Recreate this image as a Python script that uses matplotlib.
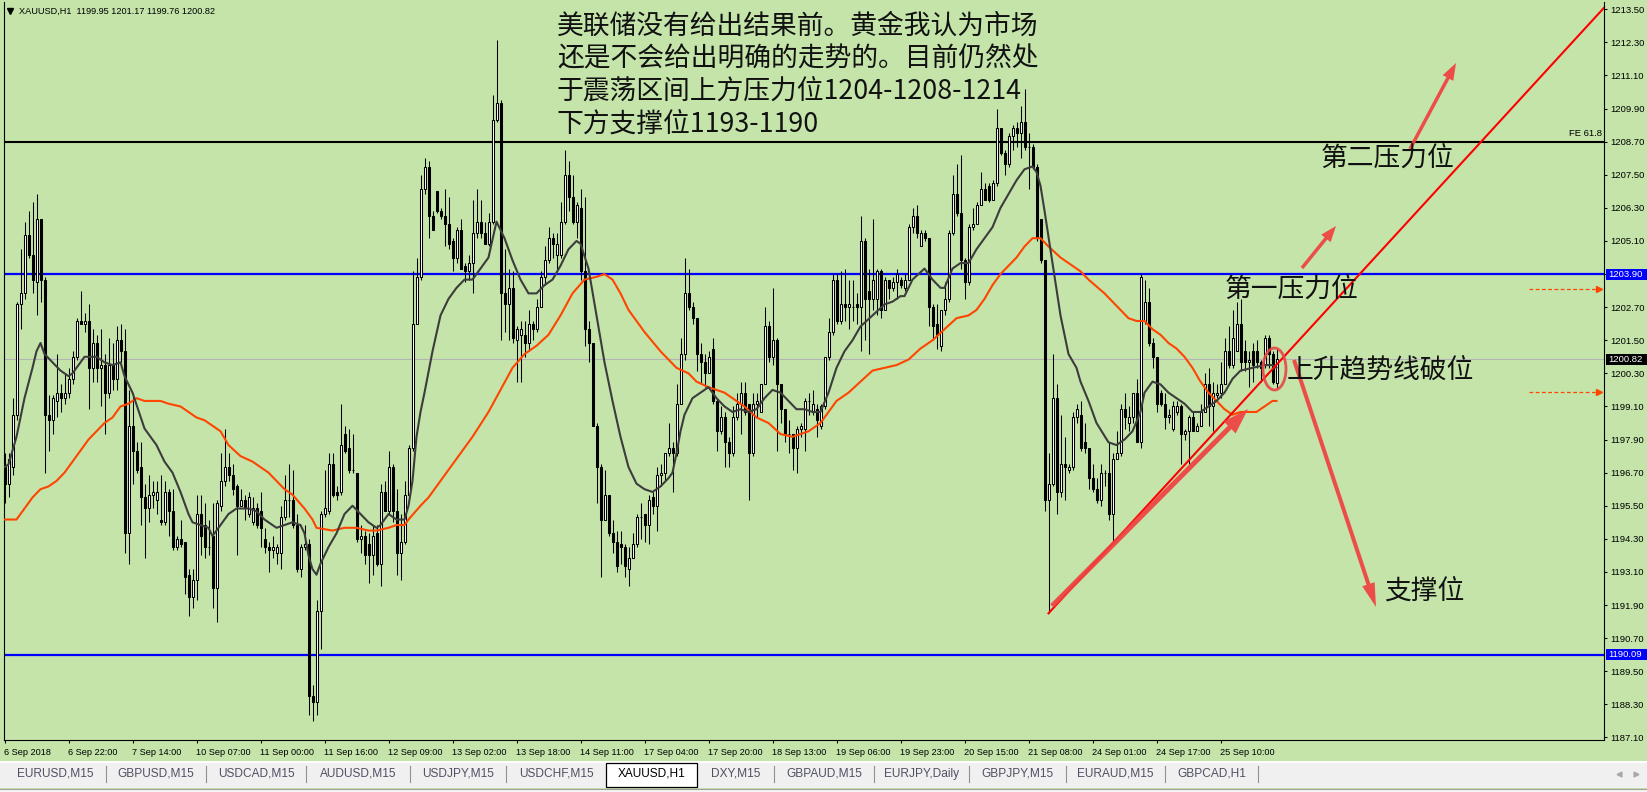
import matplotlib
matplotlib.use('Agg')
import matplotlib.pyplot as plt
from matplotlib.patches import Rectangle, Ellipse, FancyArrow
from matplotlib.transforms import blended_transform_factory
import numpy as np

W, H, DPI = 1647, 792, 100
BG = '#C4E4AA'
plt.rcParams['font.family'] = ['Liberation Sans', 'DejaVu Sans']
CJK = ['Noto Sans CJK SC', 'DejaVu Sans']

# ---------------- data (XAUUSD H1) ----------------
opens = [
1196.9,1196.3,1196.9,1198.8,1202.8,1203.2,1205.3,1204.6,1203.6,1205.9,
1203.7,1198.8,1198.6,1199.3,1199.6,1199.4,1199.6,1200.1,1200.9,1202.2,
1202.1,1202.2,1200.5,1201.4,1200.5,1200.6,1199.6,1200.6,1200.1,1201.5,
1201.1,1194.5,1198.4,1197.5,1196.9,1195.8,1195.4,1195.9,1195.7,1195.0,
1194.9,1196.0,1195.3,1194.0,1194.3,1194.2,1193.0,1192.2,1192.8,1195.2,
1194.8,1194.0,1194.4,1192.5,1195.5,1196.4,1196.9,1196.6,1196.2,1195.5,
1195.7,1195.2,1194.9,1195.4,1195.3,1194.3,1194.0,1193.9,1193.8,1193.8,
1195.1,1195.7,1195.7,1194.8,1193.2,1194.0,1194.1,1188.6,1188.4,1191.7,
1195.2,1195.3,1197.0,1196.0,1196.0,1198.1,1197.6,1196.8,1196.7,1194.3,
1194.4,1194.1,1193.7,1194.5,1193.4,1196.0,1195.3,1196.9,1195.3,1193.8,
1194.2,1195.9,1197.6,1202.1,1203.8,1207.0,1207.8,1206.0,1206.9,1206.2,
1206.0,1205.7,1205.1,1204.5,1205.5,1204.2,1204.0,1204.3,1205.4,1205.8,
1205.4,1205.0,1205.8,1209.5,1210.1,1203.2,1202.8,1203.4,1201.5,1201.7,
1201.7,1201.4,1202.1,1201.9,1202.7,1203.8,1204.4,1205.2,1204.6,1204.6,
1205.8,1207.5,1206.7,1205.8,1206.3,1204.0,1201.9,1201.4,1198.4,1196.9,
1195.0,1195.9,1194.5,1194.2,1194.1,1194.0,1193.2,1193.6,1194.1,1195.1,
1195.2,1194.8,1195.8,1195.5,1196.6,1196.7,1197.4,1197.6,1197.4,1199.2,
1201.0,1203.2,1202.7,1202.3,1201.0,1200.7,1200.3,1201.2,1199.3,1198.2,
1198.7,1197.8,1197.4,1198.7,1199.2,1199.6,1199.2,1197.4,1199.2,1198.9,
1199.9,1202.0,1200.9,1201.5,1199.9,1199.0,1198.1,1198.1,1197.6,1198.3,
1198.3,1199.3,1198.9,1199.0,1198.4,1199.1,1200.9,1201.8,1203.7,1202.2,
1202.8,1202.7,1202.7,1202.8,1202.7,1205.1,1203.3,1203.0,1203.0,1204.0,
1202.6,1203.7,1203.4,1203.6,1203.7,1203.4,1203.7,1205.6,1206.0,1204.9,
1205.4,1205.2,1202.7,1202.1,1201.3,1202.6,1203.0,1205.4,1206.8,1206.1,
1204.4,1203.6,1205.6,1205.7,1206.4,1207.0,1207.1,1206.6,1207.2,1209.2,
1208.3,1207.9,1208.9,1209.2,1209.0,1209.4,1208.5,1208.5,1207.8,1205.9,
1204.4,1195.7,1196.3,1199.4,1196.0,1197.0,1196.8,1196.9,1198.7,1198.8,
1197.8,1197.6,1196.5,1196.1,1195.7,1196.7,1196.7,1195.2,1197.2,1197.4,
1199.0,1198.5,1198.7,1199.6,1197.8,1202.2,1202.9,1201.4,1200.9,1199.6,
1199.2,1198.7,1198.3,1198.9,1199.1,1198.1,1198.2,1198.7,1198.2,1198.4,
1198.9,1199.9,1199.1,1199.5,1199.6,1199.9,1201.1,1200.6,1201.1,1202.1,
1201.1,1200.7,1201.1,1201.1,1200.7,1200.6,1201.6,1201.0,1199.95]

highs = [
1197.4,1197.4,1199.4,1202.9,1204.8,1205.8,1206.2,1206.5,1206.8,1205.9,
1203.8,1199.5,1199.5,1201.0,1199.9,1200.3,1200.5,1201.1,1202.3,1203.3,
1202.5,1202.8,1201.9,1201.7,1201.9,1201.0,1201.6,1201.4,1202.0,1202.1,
1201.9,1199.7,1199.6,1197.8,1197.8,1196.3,1196.6,1196.4,1196.4,1196.6,
1196.4,1196.1,1196.1,1194.4,1195.0,1194.2,1193.2,1193.2,1195.9,1195.9,
1195.6,1195.0,1195.6,1195.7,1197.4,1198.3,1197.4,1197.0,1196.3,1196.1,
1195.9,1196.0,1195.8,1195.6,1196.0,1194.7,1194.2,1194.4,1194.1,1195.5,
1196.6,1197.0,1196.8,1195.2,1194.1,1194.8,1194.3,1189.0,1192.1,1195.3,
1196.8,1197.4,1197.4,1196.2,1199.2,1198.4,1198.3,1198.1,1196.7,1194.8,
1194.6,1194.5,1194.8,1194.8,1196.3,1196.4,1197.5,1197.0,1196.1,1195.2,
1196.4,1197.7,1204.0,1204.5,1207.5,1208.1,1208.0,1206.2,1206.9,1206.3,
1207.0,1206.7,1205.2,1205.6,1205.9,1204.3,1204.6,1206.6,1207.0,1206.6,
1205.8,1206.1,1210.4,1212.4,1210.2,1204.8,1204.1,1204.0,1202.0,1202.2,
1202.2,1202.6,1202.2,1203.0,1204.0,1204.9,1205.6,1205.4,1205.4,1206.5,
1208.4,1208.0,1207.5,1206.5,1207.0,1206.7,1202.2,1201.4,1198.5,1197.0,
1196.8,1195.9,1195.0,1194.6,1194.6,1194.1,1194.0,1194.5,1195.2,1195.6,
1195.2,1195.9,1196.0,1196.9,1197.0,1197.4,1198.5,1197.8,1199.9,1201.6,
1204.5,1204.1,1202.9,1202.3,1201.4,1201.0,1201.1,1201.6,1199.4,1199.1,
1198.9,1198.0,1199.1,1199.6,1200.0,1200.0,1199.2,1199.6,1199.6,1199.9,
1202.7,1202.2,1203.4,1201.6,1199.9,1199.0,1198.6,1198.1,1198.4,1198.5,
1199.4,1199.6,1199.7,1199.2,1199.2,1200.9,1202.3,1203.9,1203.9,1204.0,
1204.1,1203.7,1203.7,1203.2,1206.0,1205.2,1204.1,1205.9,1204.1,1204.1,
1203.8,1203.7,1203.8,1204.1,1203.8,1203.9,1205.7,1206.3,1206.4,1205.5,
1205.5,1205.2,1202.8,1202.8,1202.6,1203.6,1205.5,1207.5,1207.9,1208.2,
1204.5,1205.7,1206.3,1206.5,1207.6,1207.2,1207.2,1207.3,1209.9,1209.2,
1208.4,1209.0,1209.3,1209.4,1210.0,1210.6,1209.0,1208.6,1207.9,1205.9,
1204.4,1197.4,1201.0,1199.9,1198.8,1198.0,1197.0,1198.9,1199.2,1199.3,
1198.5,1197.6,1197.0,1196.5,1197.0,1196.8,1197.8,1197.4,1198.2,1199.2,
1199.6,1199.1,1199.6,1200.1,1203.9,1203.7,1203.4,1201.6,1200.9,1199.7,
1199.6,1199.0,1199.3,1199.3,1199.2,1198.3,1198.8,1198.9,1198.5,1199.2,
1200.3,1200.5,1200.0,1199.9,1200.7,1201.6,1202.0,1202.6,1202.9,1203.0,
1201.5,1201.1,1201.4,1201.5,1200.8,1201.7,1201.7,1201.1,1201.17]

lows = [
1195.6,1195.8,1196.6,1198.6,1201.9,1203.0,1204.5,1203.2,1202.4,1202.9,
1196.7,1197.5,1198.1,1198.7,1198.9,1199.2,1199.4,1199.9,1200.8,1202.1,
1201.8,1199.0,1200.0,1200.0,1199.1,1198.1,1199.4,1199.7,1199.7,1200.7,
1193.8,1193.4,1196.3,1196.7,1194.8,1193.6,1194.9,1195.4,1195.2,1194.8,
1194.8,1194.4,1193.9,1193.9,1194.0,1192.3,1191.5,1191.8,1192.1,1193.7,
1193.6,1193.7,1191.8,1191.3,1195.3,1196.2,1196.4,1195.9,1193.7,1195.5,
1195.0,1195.1,1194.8,1194.7,1194.0,1193.8,1193.1,1193.6,1193.4,1193.2,
1195.0,1195.1,1194.7,1193.1,1192.9,1193.9,1187.9,1187.7,1187.9,1190.3,
1195.1,1195.2,1195.8,1195.7,1195.9,1197.4,1196.7,1196.7,1194.2,1193.8,
1193.4,1192.7,1193.0,1193.3,1192.6,1195.3,1195.2,1194.9,1193.0,1192.8,
1194.1,1195.9,1197.5,1202.1,1203.7,1206.8,1205.2,1205.5,1206.1,1205.9,
1204.9,1204.8,1204.0,1204.3,1204.1,1203.6,1203.7,1203.2,1205.2,1205.2,
1205.0,1204.9,1205.7,1209.4,1201.5,1201.8,1201.5,1201.4,1200.0,1200.0,
1200.9,1201.1,1201.5,1201.8,1202.7,1203.5,1204.3,1204.5,1204.1,1204.5,
1205.7,1206.2,1205.7,1205.2,1203.7,1201.3,1200.7,1198.4,1195.6,1192.9,
1195.0,1194.4,1193.8,1193.1,1193.4,1192.9,1192.6,1193.6,1194.0,1194.3,
1194.2,1194.1,1195.2,1194.6,1196.2,1196.4,1197.3,1196.0,1197.3,1199.2,
1200.8,1202.6,1202.1,1200.4,1199.9,1199.8,1200.3,1199.2,1197.5,1198.1,
1196.9,1196.9,1197.3,1198.6,1198.1,1198.8,1195.7,1197.3,1198.7,1198.9,
1199.9,1200.7,1200.6,1197.5,1198.5,1197.8,1197.4,1196.8,1196.7,1198.0,
1197.5,1198.8,1198.8,1198.0,1198.3,1199.0,1200.8,1201.7,1202.1,1202.1,
1202.2,1201.9,1202.2,1202.1,1201.1,1201.5,1201.0,1202.6,1202.4,1202.3,
1202.6,1203.0,1203.3,1203.0,1203.4,1203.3,1203.7,1205.4,1205.2,1204.9,
1205.1,1202.0,1201.5,1201.2,1201.1,1202.4,1202.9,1205.3,1206.0,1204.1,
1203.0,1203.5,1205.5,1205.7,1206.4,1206.6,1206.5,1206.6,1207.1,1208.2,
1207.5,1207.8,1208.4,1208.5,1208.1,1208.4,1207.0,1207.7,1205.1,1204.3,
1195.3,1191.6,1196.2,1195.2,1195.8,1195.7,1196.7,1196.8,1198.5,1197.5,
1197.4,1196.1,1196.0,1195.6,1195.5,1196.2,1195.0,1194.2,1197.2,1197.3,
1198.3,1198.2,1198.5,1197.8,1197.6,1202.1,1201.3,1200.5,1198.9,1199.1,
1198.3,1198.5,1198.2,1198.8,1197.0,1197.9,1197.0,1198.2,1198.2,1198.4,
1198.9,1198.4,1198.2,1199.4,1199.4,1199.9,1200.5,1200.5,1201.1,1200.4,
1200.4,1199.8,1200.0,1200.5,1200.0,1200.5,1200.5,1199.9,1199.76]

closes = [
1196.3,1197.2,1198.8,1202.8,1203.2,1205.3,1204.6,1203.7,1205.9,1203.7,
1198.8,1198.6,1199.4,1199.6,1199.4,1199.6,1200.1,1200.9,1202.2,1202.1,
1202.2,1200.5,1201.4,1200.5,1200.6,1199.6,1200.6,1200.1,1201.5,1201.1,
1194.5,1198.4,1197.5,1196.8,1195.8,1195.4,1195.9,1196.0,1196.0,1194.9,
1196.0,1195.3,1194.0,1194.3,1194.1,1192.9,1192.2,1192.8,1195.2,1194.4,
1194.0,1194.0,1192.5,1195.6,1196.4,1196.9,1196.6,1196.1,1195.5,1195.7,
1195.4,1195.8,1195.4,1194.8,1194.7,1194.0,1193.9,1194.0,1194.0,1195.1,
1195.7,1195.7,1194.8,1193.2,1194.0,1194.1,1188.6,1188.4,1191.7,1195.2,
1195.4,1197.0,1195.9,1195.9,1197.7,1197.5,1196.8,1196.8,1194.3,1194.4,
1193.7,1193.7,1194.4,1193.4,1196.0,1195.3,1196.9,1195.3,1193.8,1194.2,
1195.9,1197.6,1202.1,1203.8,1207.0,1207.8,1206.0,1205.5,1206.2,1206.0,
1205.7,1205.0,1204.5,1205.5,1204.1,1204.0,1204.3,1205.4,1205.8,1205.4,
1205.0,1205.8,1209.5,1210.1,1203.2,1202.8,1203.4,1201.6,1201.9,1201.9,
1201.4,1202.1,1201.9,1202.7,1203.8,1204.4,1205.2,1205.0,1205.0,1205.8,
1207.5,1206.7,1205.8,1206.4,1204.0,1201.9,1201.4,1198.4,1196.9,1195.0,
1195.9,1194.5,1194.2,1193.3,1194.0,1193.3,1193.6,1194.1,1195.1,1195.1,
1194.8,1195.7,1195.5,1196.6,1196.7,1197.4,1197.6,1197.4,1199.2,1201.0,
1203.2,1202.7,1202.3,1201.0,1200.7,1200.3,1200.9,1199.3,1198.2,1198.7,
1197.8,1197.4,1198.7,1199.2,1199.6,1198.9,1197.4,1199.2,1199.3,1199.9,
1202.0,1200.9,1201.5,1199.9,1199.0,1198.1,1198.1,1197.6,1198.3,1198.4,
1199.3,1199.3,1199.2,1198.6,1199.1,1200.9,1201.8,1203.7,1202.2,1202.8,
1202.7,1202.8,1202.7,1202.7,1205.1,1203.0,1203.0,1203.7,1204.0,1202.6,
1203.7,1203.4,1203.6,1203.9,1203.5,1203.7,1205.6,1206.0,1205.4,1205.4,
1205.2,1202.7,1202.0,1201.7,1202.6,1203.0,1205.4,1206.8,1206.1,1204.4,
1203.6,1205.6,1205.7,1206.4,1207.0,1206.6,1206.6,1207.2,1209.2,1208.3,
1207.9,1208.9,1209.2,1209.0,1209.4,1208.5,1208.5,1207.8,1205.2,1204.4,
1195.7,1196.3,1199.4,1196.0,1197.0,1196.9,1196.9,1198.7,1199.0,1197.6,
1197.6,1196.5,1196.1,1195.7,1196.7,1196.7,1195.2,1197.2,1197.4,1199.0,
1198.7,1198.7,1199.6,1197.8,1203.8,1202.9,1201.4,1200.9,1199.2,1199.2,
1198.7,1198.8,1199.1,1199.1,1198.1,1198.2,1198.7,1198.2,1198.4,1198.9,
1199.9,1199.1,1199.6,1199.6,1199.9,1201.1,1200.6,1201.6,1202.1,1200.7,
1200.7,1200.8,1200.6,1200.7,1200.5,1201.6,1201.0,1200.0,1200.82]

# fast moving average (dark line): bar index -> value
ma_fast_bars = [0,1,3,5,7,8,9,10,12,14,16,17,19,20,23,25,27,29,30,32,35,38,40,42,44,46,47,49,51,52,
    54,56,58,61,63,65,68,70,72,74,75,76,77,78,79,81,83,85,87,89,91,93,94,96,98,100,101,102,103,104,
    105,107,109,111,113,115,117,119,121,123,125,127,129,131,133,135,137,139,141,143,144,146,148,150,152,154,156,158,160,
    162,164,166,167,168,169,170,172,174,176,178,180,182,184,186,188,190,192,194,196,198,200,202,204,206,208,210,212,214,
    217,220,222,224,225,227,230,232,234,235,237,239,241,243,245,247,249,251,253,255,257,258,259,260,262,264,266,268,269,
    271,273,276,278,280,282,284,285,287,289,291,293,295,297,299,301,303,305,307,309,312,315,317,318]
ma_fast_vals = [1196.9,1197.0,1198.0,1199.4,1200.5,1201.1,1201.4,1201.0,1200.7,1200.4,1200.2,1200.3,1200.7,1200.9,1200.9,
    1200.7,1200.6,1200.7,1200.2,1199.6,1198.3,1197.7,1197.1,1196.7,1196.0,1195.2,1194.9,1194.8,1194.7,1194.4,
    1194.8,1195.2,1195.4,1195.4,1195.3,1195.0,1194.7,1194.8,1194.9,1194.8,1194.5,1193.7,1193.2,1193.0,1193.4,1194.0,
    1194.5,1195.2,1195.5,1195.2,1194.9,1194.7,1194.8,1195.2,1195.0,1195.0,1195.5,1196.4,1198.0,1198.9,
    1199.6,1201.1,1202.4,1203.0,1203.4,1203.7,1203.7,1204.1,1204.5,1205.8,1205.2,1204.4,1203.7,1203.2,1203.2,1203.5,
    1203.7,1204.2,1204.8,1205.1,1205.0,1204.1,1202.4,1200.7,1199.3,1198.0,1196.9,1196.3,1196.1,
    1196.0,1196.2,1196.5,1196.7,1197.4,1198.2,1198.8,1199.4,1199.6,1199.8,1199.4,1199.1,1198.9,1199.0,1198.9,1199.0,
    1199.4,1199.7,1199.6,1199.3,1199.0,1199.0,1198.9,1198.9,1199.6,1200.5,1201.1,1201.5,1202.0,
    1202.4,1202.8,1202.9,1203.1,1203.1,1203.7,1204.1,1203.7,1203.4,1203.4,1204.1,1204.3,1204.3,1204.8,1205.2,1205.6,
    1206.3,1206.8,1207.3,1207.7,1207.8,1207.6,1207.1,1206.2,1204.3,1202.4,1201.0,1200.5,1200.0,
    1199.3,1198.5,1197.8,1197.7,1197.9,1198.2,1198.9,1199.6,1200.0,1199.9,1199.6,1199.4,1199.2,1198.9,1198.9,1199.1,
    1199.3,1199.6,1200.1,1200.4,1200.5,1200.6,1200.6,1200.5]

# slow moving average (orange line): bar index -> value
ma_slow_bars = [0,3,5,7,9,11,13,15,17,19,21,23,25,27,29,31,33,35,39,41,44,46,48,50,52,54,56,59,62,66,70,72,75,77,78,
    82,85,88,91,93,96,98,100,101,104,106,108,109,113,117,121,124,127,130,133,136,139,142,145,148,150,152,154,156,158,160,
    164,168,171,173,176,180,182,185,188,191,194,197,199,201,204,206,208,211,214,217,220,223,226,229,232,235,238,241,243,
    245,247,249,251,253,255,257,259,261,264,267,269,271,275,277,279,281,283,285,287,289,291,293,295,297,299,301,303,305,
    307,309,311,313,315,317,318]
ma_slow_vals = [1195.0,1195.0,1195.4,1195.8,1196.1,1196.2,1196.4,1196.7,1197.1,1197.5,1197.9,1198.2,1198.5,1198.7,1199.1,
    1199.2,1199.4,1199.3,1199.3,1199.2,1199.1,1198.9,1198.7,1198.6,1198.4,1198.2,1197.7,1197.3,1197.1,1196.7,1196.1,
    1195.9,1195.4,1195.0,1194.7,1194.6,1194.7,1194.7,1194.6,1194.6,1194.7,1194.8,1194.8,1195.0,1195.5,1195.8,1196.2,
    1196.4,1197.2,1198.0,1198.9,1199.7,1200.5,1201.0,1201.3,1201.7,1202.4,1203.2,1203.7,1203.8,1203.9,1203.7,1203.2,
    1202.6,1202.2,1201.8,1201.1,1200.5,1200.3,1200.0,1199.8,1199.6,1199.4,1199.1,1198.7,1198.5,1198.1,1198.0,1198.1,
    1198.2,1198.5,1198.9,1199.3,1199.6,1200.0,1200.4,1200.5,1200.6,1200.8,1201.2,1201.5,1201.9,1202.3,1202.4,1202.6,
    1203.0,1203.5,1203.9,1204.2,1204.5,1204.9,1205.2,1205.2,1204.9,1204.5,1204.2,1204.0,1203.7,1203.2,1202.9,1202.6,
    1202.3,1202.2,1202.2,1201.9,1201.7,1201.4,1201.2,1200.9,1200.5,1200.0,1199.6,1199.3,1199.0,1198.8,1198.9,1198.9,
    1198.9,1199.1,1199.3,1199.3]

level_fe618 = 1208.70
level_res = 1203.90
level_sup = 1190.09
last_price = 1200.82
dashed_levels = [1203.36, 1199.63]
trend_start = (261, 1191.6)
trend_slope = 0.1581  # price per bar

ytick_vals = [1213.50,1212.30,1211.10,1209.90,1208.70,1207.50,1206.30,1205.10,1203.90,1202.70,1201.50,1200.30,
              1199.10,1197.90,1196.70,1195.50,1194.30,1193.10,1191.90,1190.70,1189.50,1188.30,1187.10]
xtick_labels = ['6 Sep 2018','6 Sep 22:00','7 Sep 14:00','10 Sep 07:00','11 Sep 00:00','11 Sep 16:00',
                '12 Sep 09:00','13 Sep 02:00','13 Sep 18:00','14 Sep 11:00','17 Sep 04:00','17 Sep 20:00',
                '18 Sep 13:00','19 Sep 06:00','19 Sep 23:00','20 Sep 15:00','21 Sep 08:00','24 Sep 01:00',
                '24 Sep 17:00','25 Sep 10:00']
bars_per_label = 16
tabs = ['EURUSD,M15','GBPUSD,M15','USDCAD,M15','AUDUSD,M15','USDJPY,M15','USDCHF,M15','XAUUSD,H1',
        'DXY,M15','GBPAUD,M15','EURJPY,Daily','GBPJPY,M15','EURAUD,M15','GBPCAD,H1']
active_tab = 'XAUUSD,H1'

# ---------------- figure ----------------
fig = plt.figure(figsize=(W / DPI, H / DPI), dpi=DPI, facecolor=BG)
ax = fig.add_axes([4 / W, 52 / H, 1600 / W, 738 / H])
ax.set_facecolor(BG)
ax.set_xlim(-0.125, 399.875)
ax.set_ylim(1187.006, 1213.765)

o = np.array(opens); h = np.array(highs); l = np.array(lows); c = np.array(closes)
idx = np.arange(len(o))

# horizontal levels
ax.axhline(last_price, color='#B4B4B4', lw=0.8, zorder=1)
ax.axhline(level_fe618, color='black', lw=1.5, zorder=2)
ax.axhline(level_res, color='#0000FF', lw=1.6, zorder=2)
ax.axhline(level_sup, color='#0000FF', lw=1.6, zorder=2)

# candles
ax.vlines(idx, l, h, color='black', lw=0.75, zorder=3)
bull = c >= o
ax.bar(idx[bull], c[bull] - o[bull], bottom=o[bull], width=0.5, color='white',
       edgecolor='black', linewidth=0.75, zorder=4)
ax.bar(idx[~bull], o[~bull] - c[~bull], bottom=c[~bull], width=0.5, color='black',
       edgecolor='black', linewidth=0.75, zorder=4)

# moving averages
ax.plot(ma_slow_bars, ma_slow_vals, color='#FF4500', lw=1.5, zorder=5)
ax.plot(ma_fast_bars, ma_fast_vals, color='#3C3C3C', lw=1.5, zorder=5)

# trend line
x_end = 399.875
ax.plot([trend_start[0], x_end], [trend_start[1], trend_start[1] + trend_slope * (x_end - trend_start[0])],
        color='#FF0000', lw=1.5, zorder=6)

# dashed orange arrows at right
for lv in dashed_levels:
    ax.plot([381.0, 398.6], [lv, lv], color='#FF4500', lw=0.9, ls=(0, (3, 2)), zorder=5)
    ax.plot([398.6], [lv], marker='>', color='#FF4500', ms=4, zorder=5)

# axes styling
for s in ['top']:
    ax.spines[s].set_visible(False)
for s in ['left', 'right', 'bottom']:
    ax.spines[s].set_color('black')
    ax.spines[s].set_linewidth(0.8)
ax.yaxis.tick_right()
ax.set_yticks(ytick_vals)
ax.set_yticklabels([f'{v:.2f}' for v in ytick_vals], fontsize=6.8)
ax.tick_params(axis='y', direction='out', length=2.5, width=0.75, pad=2, colors='black')
xt = [i * bars_per_label for i in range(len(xtick_labels))]
ax.set_xticks(xt)
ax.set_xticklabels(xtick_labels, fontsize=6.6)
for t in ax.get_xticklabels():
    t.set_ha('left')
ax.tick_params(axis='x', direction='out', length=2.5, width=0.75, pad=3, colors='black')

# price tags on the right scale
trans = blended_transform_factory(ax.transAxes, ax.transData)
ppu = 738 / (1213.765 - 1187.006)
def price_tag(p, fc):
    ax.add_patch(Rectangle(((1606 - 4) / 1600, p - 5.5 / ppu), 41 / 1600, 11 / ppu, transform=trans,
                           fc=fc, ec='none', clip_on=False, zorder=7))
    ax.text((1608 - 4) / 1600, p, f'{p:.2f}', transform=trans, color='white', fontsize=6.8,
            va='center', ha='left', clip_on=False, zorder=8)
price_tag(level_res, '#0000FF')
price_tag(level_sup, '#0000FF')
price_tag(last_price, '#000000')

# ---------------- overlay in pixel coords ----------------
ov = fig.add_axes([0, 0, 1, 1], zorder=10)
ov.set_xlim(0, W); ov.set_ylim(H, 0); ov.axis('off'); ov.patch.set_alpha(0)

# header
ov.plot([10], [10.5], marker='v', color='black', ms=4)
ov.text(19, 11, 'XAUUSD,H1  1199.95 1201.17 1199.76 1200.82', fontsize=6.6, va='center', ha='left')
ov.text(1602, 133, 'FE 61.8', fontsize=6.8, va='center', ha='right')

# annotation texts
txt = dict(family=CJK, fontsize=19.3, color='#111111', va='center', ha='left')
ov.text(557, 26, '美联储没有给出结果前。黄金我认为市场', **txt)
ov.text(557, 59, '还是不会给出明确的走势的。目前仍然处', **txt)
ov.text(557, 91, '于震荡区间上方压力位1204-1208-1214', **txt)
ov.text(557, 124, '下方支撑位1193-1190', **txt)
ov.text(1321, 158, '第二压力位', **txt)
ov.text(1225, 289, '第一压力位', **txt)
ov.text(1287, 370, '上升趋势线破位', **txt)
ov.text(1384, 591, '支撑位', **txt)

# hand drawn arrows
ARC = '#F04040'
def arrow(x0, y0, x1, y1, w, hw, hl):
    ov.add_patch(FancyArrow(x0, y0, x1 - x0, y1 - y0, width=w, head_width=hw, head_length=hl,
                            length_includes_head=True, color=ARC, alpha=0.92, lw=0))
arrow(1052, 606, 1248, 409, 5, 17, 26)
arrow(1302, 268, 1336, 226, 3.5, 12, 16)
arrow(1410, 149, 1456, 63, 3.5, 12, 17)
arrow(1294, 360, 1376, 607, 4, 13, 24)
ov.add_patch(Ellipse((1274.5, 369), 23, 42, fill=False, ec='#E84545', lw=2.0, alpha=0.9))

# tab bar
ov.add_patch(Rectangle((0, 761), W, 2, fc='white', ec='none'))
ov.add_patch(Rectangle((0, 763), W, 25, fc='#F0F0F0', ec='none'))
ov.plot([0, W], [788.5, 788.5], color='#A0A0A0', lw=0.8)
ov.add_patch(Rectangle((0, 789), W, 3, fc='#F4F4F4', ec='none'))
tab_w = [101, 100, 100, 104, 96, 100, 91, 77, 100, 95, 97, 99, 93]
x = 5
for name, w in zip(tabs, tab_w):
    if name == active_tab:
        ov.add_patch(Rectangle((x, 762.5), w, 24, fc='white', ec='black', lw=0.9))
        ov.text(x + w / 2, 774, name, fontsize=8.6, ha='center', va='center', color='black')
    else:
        ov.text(x + w / 2, 774, name, fontsize=8.6, ha='center', va='center', color='#505064')
        nxt = tabs[tabs.index(name) + 1] if tabs.index(name) + 1 < len(tabs) else None
        if nxt != active_tab:
            ov.plot([x + w, x + w], [766, 782], color='#909090', lw=0.8)
    x += w
ov.plot([1619], [774], marker='<', color='#A8A8A8', ms=3.5)
ov.plot([1636], [774], marker='>', color='#A8A8A8', ms=3.5)

fig.savefig('out.png', dpi=DPI, facecolor=BG)
